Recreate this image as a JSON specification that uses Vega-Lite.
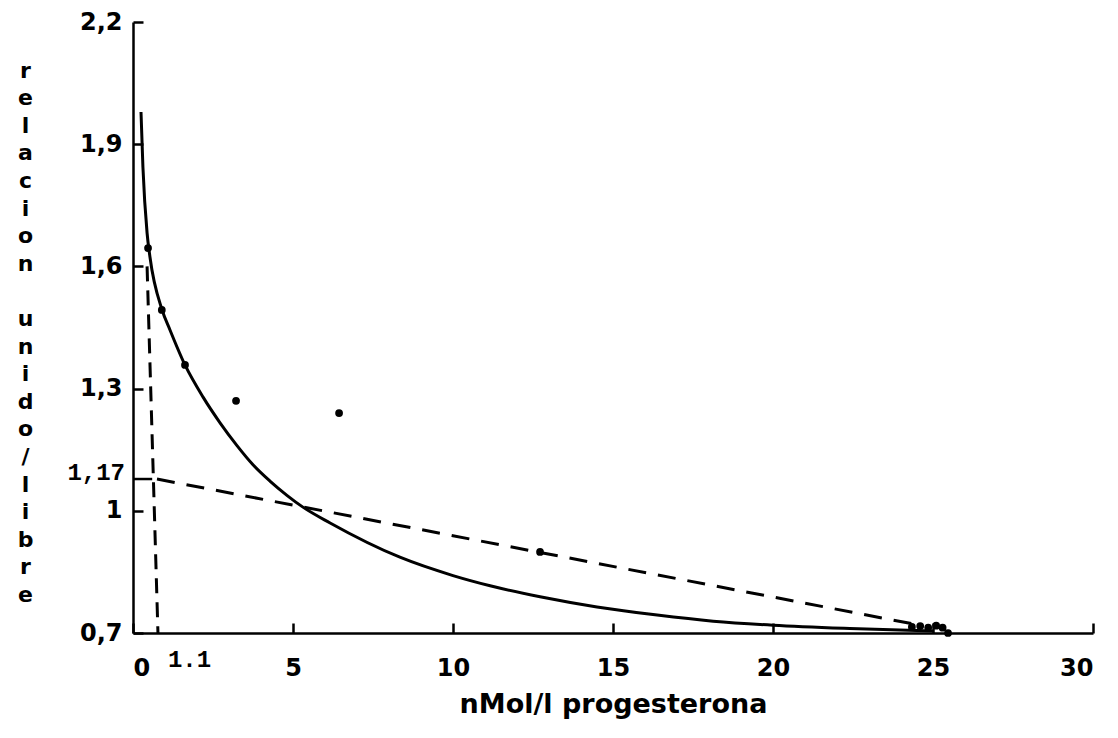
{
  "$schema": "https://vega.github.io/schema/vega-lite/v6.json",
  "width": 960,
  "height": 611,
  "autosize": {"type": "none"},
  "padding": {"left": 133, "top": 22, "right": 25, "bottom": 105},
  "background": "white",
  "config": {
    "view": {"stroke": null},
    "axis": {
      "grid": false,
      "domainColor": "black",
      "domainWidth": 2.5,
      "tickColor": "black",
      "tickWidth": 2.5,
      "tickSize": -10,
      "labelColor": "black",
      "labelFont": "DejaVu Sans",
      "labelFontWeight": "bold",
      "labelFontSize": 24,
      "titleColor": "black"
    }
  },
  "datasets": {
    "curve": [
      {"x": 0.25, "y": 1.979},
      {"x": 0.31, "y": 1.844},
      {"x": 0.44, "y": 1.682},
      {"x": 0.53, "y": 1.623},
      {"x": 0.91, "y": 1.493},
      {"x": 1.156, "y": 1.444},
      {"x": 1.625, "y": 1.358},
      {"x": 2.19, "y": 1.279},
      {"x": 2.72, "y": 1.216},
      {"x": 3.25, "y": 1.16},
      {"x": 3.75, "y": 1.113},
      {"x": 4.28, "y": 1.073},
      {"x": 4.81, "y": 1.038},
      {"x": 5.31, "y": 1.009},
      {"x": 6.16, "y": 0.97},
      {"x": 8.34, "y": 0.886},
      {"x": 10.0, "y": 0.841},
      {"x": 11.16, "y": 0.816},
      {"x": 12.72, "y": 0.789},
      {"x": 14.5, "y": 0.764},
      {"x": 16.38, "y": 0.744},
      {"x": 18.13, "y": 0.729},
      {"x": 20.0, "y": 0.719},
      {"x": 22.4, "y": 0.711},
      {"x": 25.0, "y": 0.705}
    ],
    "fit": [
      {"x": 0.75, "y": 1.078},
      {"x": 24.4, "y": 0.722}
    ],
    "drop": [
      {"x": 0.44, "y": 1.6},
      {"x": 0.78, "y": 0.7}
    ],
    "bracket": [
      {"x": 0, "y": 1.078},
      {"x": 0.6, "y": 1.078}
    ],
    "points": [
      {"x": 0.47, "y": 1.645},
      {"x": 0.9, "y": 1.493},
      {"x": 1.625, "y": 1.358},
      {"x": 3.22, "y": 1.27},
      {"x": 6.44, "y": 1.24},
      {"x": 12.72, "y": 0.899},
      {"x": 24.34, "y": 0.715},
      {"x": 24.6, "y": 0.717},
      {"x": 24.85, "y": 0.713},
      {"x": 25.1, "y": 0.718},
      {"x": 25.3, "y": 0.713},
      {"x": 25.47, "y": 0.7}
    ],
    "labels": [
      {"x": 0.78, "y": 0.7, "label": "1.1", "kind": "x"},
      {"x": 0, "y": 1.078, "label": "1,17", "kind": "y"}
    ]
  },
  "encoding": {
    "x": {
      "field": "x",
      "type": "quantitative",
      "scale": {"domain": [0, 30], "nice": false, "zero": false},
      "axis": {
        "values": [0, 5, 10, 15, 20, 25, 30],
        "labelPadding": 33,
        "title": "nMol/l progesterona",
        "titleFont": "DejaVu Sans",
        "titleFontSize": 27,
        "titleFontWeight": "bold",
        "titlePadding": 11
      }
    },
    "y": {
      "field": "y",
      "type": "quantitative",
      "scale": {"domain": [0.7, 2.2], "nice": false, "zero": false},
      "axis": {
        "values": [0.7, 1.0, 1.3, 1.6, 1.9, 2.2],
        "labelExpr": "datum.value == 1 ? '1' : replace(format(datum.value, '.1f'), '.', ',')",
        "labelPadding": 21,
        "title": ["r", "e", "l", "a", "c", "i", "o", "n", "\u2800", "u", "n", "i", "d", "o", "/", "l", "i", "b", "r", "e"],
        "titleAngle": 0,
        "titleAlign": "center",
        "titleBaseline": "top",
        "titleFont": "DejaVu Sans",
        "titleFontSize": 22,
        "titleFontWeight": "bold",
        "titleLineHeight": 27.6,
        "titleX": -108,
        "titleY": 38
      }
    }
  },
  "layer": [
    {
      "data": {"name": "curve"},
      "mark": {"type": "line", "color": "black", "strokeWidth": 3, "interpolate": "monotone"}
    },
    {
      "data": {"name": "fit"},
      "mark": {"type": "line", "color": "black", "strokeWidth": 3, "strokeDash": [18, 12]}
    },
    {
      "data": {"name": "drop"},
      "mark": {"type": "line", "color": "black", "strokeWidth": 3, "strokeDash": [15, 9]}
    },
    {
      "data": {"name": "bracket"},
      "mark": {"type": "line", "color": "black", "strokeWidth": 2.5}
    },
    {
      "data": {"name": "points"},
      "mark": {"type": "point", "filled": true, "color": "black", "opacity": 1, "size": 60}
    },
    {
      "data": {"name": "labels"},
      "transform": [{"filter": "datum.kind == 'x'"}],
      "mark": {"type": "text", "font": "Liberation Mono", "fontSize": 24, "fontWeight": "bold", "color": "black", "align": "left", "baseline": "middle", "dx": 10, "dy": 27},
      "encoding": {"text": {"field": "label"}}
    },
    {
      "data": {"name": "labels"},
      "transform": [{"filter": "datum.kind == 'y'"}],
      "mark": {"type": "text", "font": "Liberation Mono", "fontSize": 24, "fontWeight": "bold", "color": "black", "align": "right", "baseline": "middle", "dx": -8, "dy": -6},
      "encoding": {"text": {"field": "label"}}
    }
  ]
}
